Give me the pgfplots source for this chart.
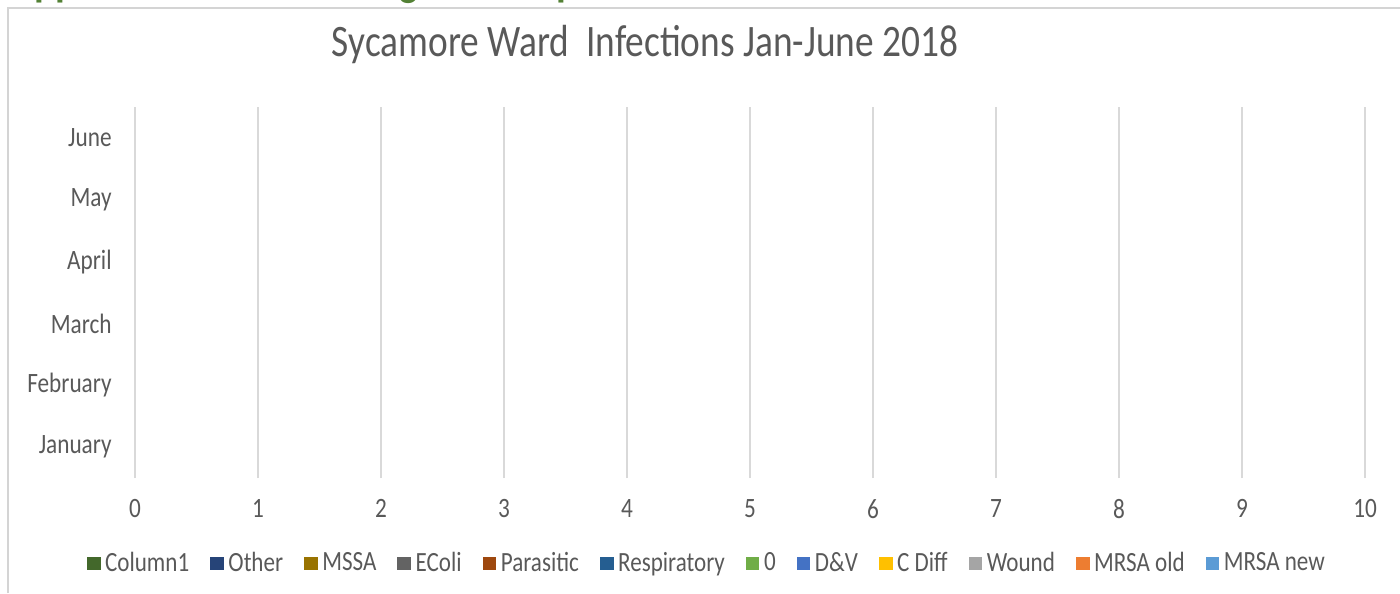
\documentclass[border=0pt]{standalone}
\usepackage{fontspec}
\setmainfont{Carlito}[FakeStretch=0.83]
\usepackage{pgfplots}
\pgfplotsset{compat=1.18}
\definecolor{labc}{HTML}{595959}
\definecolor{gridc}{HTML}{D9D9D9}
\definecolor{framec}{HTML}{D4D4D4}
\definecolor{heading}{HTML}{538135}
\definecolor{cColA}{HTML}{43682B}
\definecolor{cOther}{HTML}{264478}
\definecolor{cMSSA}{HTML}{997300}
\definecolor{cEColi}{HTML}{636363}
\definecolor{cPara}{HTML}{9E480E}
\definecolor{cResp}{HTML}{255E91}
\definecolor{cZero}{HTML}{70AD47}
\definecolor{cDV}{HTML}{4472C4}
\definecolor{cCDiff}{HTML}{FFC000}
\definecolor{cWound}{HTML}{A5A5A5}
\definecolor{cMRSAo}{HTML}{ED7D31}
\definecolor{cMRSAn}{HTML}{5B9BD5}
% zero-length bars: nothing drawn in the plot, coloured square in the legend
\pgfplotsset{sq/.style={draw=none, fill=none,
  legend image code/.code={\fill[#1] (0bp,-3.2bp) rectangle (6.8bp,3.2bp);}}}
\begin{document}
\begin{tikzpicture}[x=1bp,y=1bp]
\useasboundingbox (0,0) rectangle (700,296.5);
\clip (0,0) rectangle (700,296.5);
% heading cut off by the top edge
\node[anchor=base west, inner sep=0pt, text=heading, font=\fontsize{24bp}{28bp}\selectfont\bfseries] at (5,298.5) {Appendix 3 Infection Log Data Report};
% chart frame
\draw[framec, line width=0.65bp] (4,0) -- (4,292.5) -- (700,292.5);
% title
\node[text=labc, font=\fontsize{22.5bp}{26bp}\selectfont, inner sep=0pt] at (322.5,274) {Sycamore Ward\ \ Infections Jan-June 2018};
\begin{axis}[
  at={(67.5bp,57.5bp)}, anchor=south west,
  scale only axis, width=615bp, height=185.5bp,
  xbar, bar width=3bp,
  xmin=0, xmax=10, ymin=-0.5, ymax=5.5,
  xtick={0,...,10}, ytick={0,...,5},
  yticklabels={January,February,March,April,May,June},
  xmajorgrids, grid style={line width=0.75bp, color=gridc},
  axis line style={draw=none}, tick style={draw=none}, major tick length=0pt,
  ticklabel style={font=\fontsize{14bp}{16bp}\selectfont, text=labc},
  /pgf/number format/assume math mode=true,
  xticklabel style={inner sep=0pt, anchor=north, yshift=-10.5bp},
  yticklabel style={inner sep=0pt, anchor=east, xshift=-11.5bp},
  legend columns=12,
  legend style={at={(0.466,-0.230)}, anchor=center, draw=none, fill=none,
    font=\fontsize{13.9bp}{16bp}\selectfont, text=labc,
    nodes={inner xsep=2.3bp, inner ysep=1bp},
    /tikz/every even column/.append style={column sep=8.2bp}},
]
\addplot[sq=cColA] coordinates {(0,0) (0,1) (0,2) (0,3) (0,4) (0,5)};
\addlegendentry{Column1}
\addplot[sq=cOther] coordinates {(0,0) (0,1) (0,2) (0,3) (0,4) (0,5)};
\addlegendentry{Other}
\addplot[sq=cMSSA] coordinates {(0,0) (0,1) (0,2) (0,3) (0,4) (0,5)};
\addlegendentry{MSSA}
\addplot[sq=cEColi] coordinates {(0,0) (0,1) (0,2) (0,3) (0,4) (0,5)};
\addlegendentry{EColi}
\addplot[sq=cPara] coordinates {(0,0) (0,1) (0,2) (0,3) (0,4) (0,5)};
\addlegendentry{Parasitic}
\addplot[sq=cResp] coordinates {(0,0) (0,1) (0,2) (0,3) (0,4) (0,5)};
\addlegendentry{Respiratory}
\addplot[sq=cZero] coordinates {(0,0) (0,1) (0,2) (0,3) (0,4) (0,5)};
\addlegendentry{0}
\addplot[sq=cDV] coordinates {(0,0) (0,1) (0,2) (0,3) (0,4) (0,5)};
\addlegendentry{D\&V}
\addplot[sq=cCDiff] coordinates {(0,0) (0,1) (0,2) (0,3) (0,4) (0,5)};
\addlegendentry{C Diff}
\addplot[sq=cWound] coordinates {(0,0) (0,1) (0,2) (0,3) (0,4) (0,5)};
\addlegendentry{Wound}
\addplot[sq=cMRSAo] coordinates {(0,0) (0,1) (0,2) (0,3) (0,4) (0,5)};
\addlegendentry{MRSA old}
\addplot[sq=cMRSAn] coordinates {(0,0) (0,1) (0,2) (0,3) (0,4) (0,5)};
\addlegendentry{MRSA new}
\end{axis}
\end{tikzpicture}
\end{document}
